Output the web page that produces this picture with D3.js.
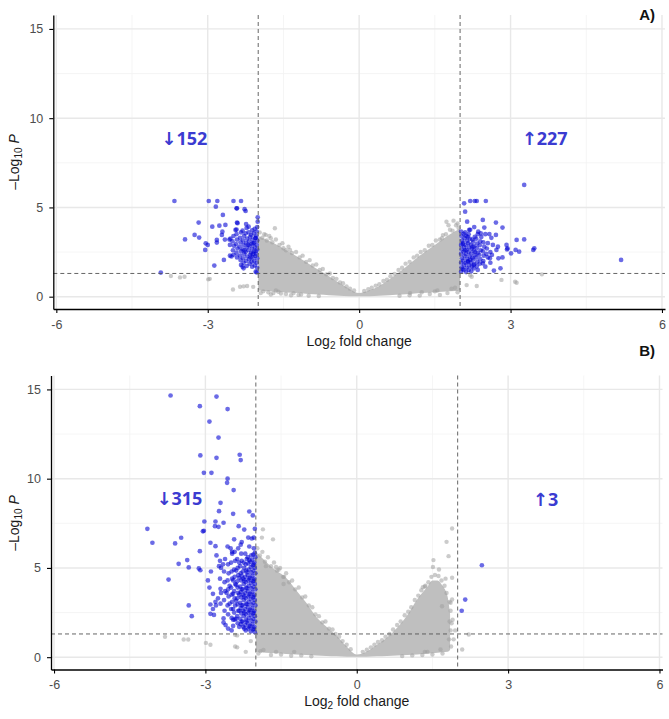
<!DOCTYPE html>
<html><head><meta charset="utf-8">
<script src="https://cdn.jsdelivr.net/npm/d3@7"></script>
<style>body{margin:0;background:#fff}</style></head>
<body><svg id="c" width="669" height="719"></svg>
<script>
// ---------- axis ticks / cutoffs ----------
const xTicks = [-6, -3, 0, 3, 6];
const xMinor = [-4.5, -1.5, 1.5, 4.5];
const yTicks = [0, 5, 10, 15];
const yMinor = [2.5, 7.5, 12.5];
const fcCutoff = 2;
const pCutoff = 1.30103;
const panelLabels = ["A)", "B)"];
const countLabels = [["↓152", "↑227"], ["↓315", "↑3"]];

// ---------- panel A data ----------
const downA = [
[-3.93,1.35],[-3.66,5.36],[-3.45,3.21],[-3.26,3.46],[-3.18,4.15],[-3.17,3.31],[-2.98,5.36],[-2.81,5.36],[-2.84,5.04],[-3.04,2.99],[-3.0,2.9],[-3.05,2.62],
[-2.91,3.92],[-2.77,3.98],[-2.65,4.02],[-2.82,3.18],[-2.82,3.03],[-2.72,3.46],[-2.71,3.64],[-2.66,3.2],[-2.56,2.9],[-2.7,4.58],[-2.87,1.74],[-2.68,2.06],
[-2.49,5.36],[-2.34,5.36],[-2.43,4.95],[-2.42,4.95],[-2.27,4.9],[-2.25,4.8],[-2.42,4.15],[-2.41,4.12],[-2.45,3.74],[-2.43,3.76],[-2.24,4.07],[-2.19,3.92],
[-2.01,4.45],[-2.01,4.2],[-2.57,3.2],[-2.55,3.25],[-2.56,2.3],[-2.53,2.25],[-2.34,1.78],[-2.31,1.68],[-2.29,1.59],[-2.05,1.4],[-2.03,1.36],
[-2.02,1.62],[-2.03,1.9],[-2.02,2.15],[-2.04,2.4],[-2.02,2.65],[-2.03,2.9],[-2.02,3.15],[-2.04,3.4],[-2.03,3.65],[-2.02,3.9],
[-2.07,1.75],[-2.08,2.0],[-2.06,2.28],[-2.09,2.52],[-2.07,2.78],[-2.08,3.02],[-2.06,3.28],[-2.09,3.55],[-2.07,3.8],
[-2.12,1.68],[-2.13,1.95],[-2.11,2.2],[-2.14,2.45],[-2.12,2.7],[-2.13,2.95],[-2.11,3.2],[-2.14,3.45],[-2.12,3.72],
[-2.17,1.85],[-2.18,2.1],[-2.16,2.35],[-2.19,2.6],[-2.17,2.85],[-2.18,3.1],[-2.16,3.35],[-2.19,3.6],
[-2.23,1.72],[-2.24,2.0],[-2.22,2.25],[-2.25,2.5],[-2.23,2.75],[-2.24,3.0],[-2.22,3.25],[-2.25,3.55],[-2.23,3.85],
[-2.29,1.9],[-2.3,2.15],[-2.28,2.4],[-2.31,2.65],[-2.29,2.9],[-2.3,3.15],[-2.28,3.4],[-2.31,3.7],
[-2.35,2.05],[-2.36,2.3],[-2.34,2.55],[-2.37,2.8],[-2.35,3.05],[-2.36,3.3],[-2.34,3.6],
[-2.42,2.2],[-2.43,2.45],[-2.41,2.7],[-2.44,2.95],[-2.42,3.2],[-2.43,3.5],
[-2.49,2.35],[-2.5,2.6],[-2.48,2.85],[-2.51,3.1],[-2.49,3.4],
[-2.05,2.55],[-2.1,3.0],[-2.15,2.2],[-2.05,3.3],[-2.2,2.9],[-2.1,2.4],[-2.27,2.6]
];
const upA = [
[3.27,6.26],[5.19,2.06],[2.08,5.23],[2.2,5.36],[2.29,5.36],[2.33,5.36],[2.51,5.36],[2.1,4.76],[2.45,4.3],[2.14,4.2],[2.71,4.15],[2.18,3.74],
[2.48,3.87],[2.84,3.87],[2.36,3.64],[2.41,3.55],[2.58,3.51],[2.71,3.46],[3.12,3.18],[3.27,3.21],[2.92,2.9],[2.94,2.71],[2.93,2.65],
[3.1,2.62],[3.17,2.52],[3.47,2.71],[3.45,2.62],[3.01,2.43],[2.84,2.2],[2.76,2.15],[2.72,2.62],[2.75,2.8],[2.59,2.15],[2.63,2.34],
[2.8,1.59],[2.67,1.46],[2.45,1.87],[2.5,1.68],[2.35,1.5],[2.27,1.78],
[2.02,1.4],[2.03,1.65],[2.02,1.9],[2.04,2.15],[2.02,2.4],[2.03,2.65],[2.02,2.9],[2.04,3.15],[2.03,3.4],[2.02,3.65],
[2.07,1.5],[2.08,1.78],[2.06,2.02],[2.09,2.28],[2.07,2.52],[2.08,2.78],[2.06,3.02],[2.09,3.28],[2.07,3.52],
[2.12,1.38],[2.13,1.62],[2.11,1.88],[2.14,2.12],[2.12,2.38],[2.13,2.62],[2.11,2.88],[2.14,3.12],[2.12,3.4],
[2.17,1.5],[2.18,1.75],[2.16,2.0],[2.19,2.25],[2.17,2.5],[2.18,2.75],[2.16,3.0],[2.19,3.25],[2.17,3.5],
[2.22,1.42],[2.23,1.68],[2.21,1.92],[2.24,2.18],[2.22,2.42],[2.23,2.68],[2.21,2.92],[2.24,3.2],
[2.27,1.58],[2.28,1.82],[2.26,2.08],[2.29,2.32],[2.27,2.58],[2.28,2.82],[2.26,3.08],[2.29,3.35],
[2.33,1.7],[2.34,1.95],[2.32,2.2],[2.35,2.45],[2.33,2.72],[2.34,2.98],[2.32,3.25],
[2.39,1.85],[2.4,2.1],[2.38,2.35],[2.41,2.6],[2.39,2.88],[2.4,3.1],
[2.46,2.0],[2.47,2.3],[2.45,2.55],[2.48,2.8],[2.46,3.05],[2.52,2.4],[2.53,2.7],[2.55,3.0],[2.6,2.5],
[2.05,1.55],[2.1,2.6],[2.15,1.95],[2.05,2.95],[2.1,3.6],[2.2,2.05],[2.25,2.8],[2.15,3.35],[2.3,2.5],[2.35,3.5],
[2.42,3.35],[2.2,3.75],[2.28,3.9],[2.5,3.5],[2.55,2.2],[2.6,1.9],[2.65,2.9],[2.62,3.3]
];
const nsA = [
[-3.73,1.16],[-3.55,1.08],[-3.46,1.12],[-2.99,0.97],[-2.96,1.0],[-2.36,0.56],[-2.29,0.58],[-2.22,0.6],[-2.1,0.55],[-2.5,0.4],
[-1.67,3.83],[-1.85,3.46],[-1.75,3.27],[-1.5,2.71],[-1.37,2.62],[-1.9,0.3],[-1.8,0.25],[-1.7,0.2],[-1.6,0.28],[-1.45,0.15],[-1.3,0.2],[-1.15,0.12],
[1.73,4.2],[1.87,4.26],[1.77,4.0],[1.64,3.27],[1.95,4.1],[2.82,0.94],[3.09,0.84],[3.12,0.78],[3.62,1.25],[2.2,1.2],[2.23,1.12],[2.13,0.65],[2.33,0.6],
[1.9,0.5],[1.83,0.45],[1.5,0.3],[1.24,0.25],[1.01,0.2],
[-1.97,3.6],[-1.92,3.3],[-1.88,3.5],[-1.83,3.15],[-1.78,3.4],[-1.72,3.05],[-1.65,3.2],[-1.58,2.9],[-1.52,3.0],[-1.45,2.6],[-1.4,2.8],
[-1.33,2.45],[-1.25,2.5],[-1.18,2.2],[-1.12,2.3],[-1.05,1.95],[-0.98,2.05],[-0.92,1.75],[-0.85,1.8],[-0.78,1.5],[-0.72,1.55],[-0.65,1.25],
[-0.58,1.3],[-0.52,1.05],[-0.45,1.0],[-0.38,0.8],[-0.32,0.75],[-0.25,0.58],[-0.18,0.45],[-0.1,0.35],
[0.1,0.32],[0.18,0.42],[0.25,0.5],[0.33,0.62],[0.4,0.7],[0.48,0.88],[0.55,0.95],[0.62,1.15],[0.7,1.28],[0.78,1.5],[0.85,1.62],[0.92,1.85],
[1.0,1.95],[1.08,2.2],[1.15,2.3],[1.22,2.5],[1.3,2.6],[1.38,2.85],[1.45,2.9],[1.52,3.15],[1.6,3.2],[1.66,3.45],[1.72,3.5],[1.8,3.75],
[1.85,3.7],[1.92,4.0],[1.97,3.85],
[-1.95,0.2],[-1.75,0.12],[-1.55,0.18],[-1.35,0.08],[-1.2,0.1],[-1.0,0.05],[-0.8,0.04],[0.8,0.05],[1.0,0.08],[1.2,0.06],[1.4,0.15],
[1.6,0.1],[1.75,0.2],[1.95,0.25],[-1.65,0.35],[1.55,0.35]
];
// dense non-significant core (envelope)
const cloudAx   = [-2, -1.8, -1.5, -1.2, -1.0, -0.8, -0.6, -0.4, -0.2, 0, 0.2, 0.4, 0.6, 0.85, 1.0, 1.2, 1.5, 1.8, 2.0];
const cloudAtop = [3.4, 3.15, 2.7, 2.2, 1.85, 1.5, 1.15, 0.78, 0.45, 0.2, 0.36, 0.6, 0.98, 1.5, 1.85, 2.3, 2.9, 3.5, 3.8];
const cloudAbot = [0.35, 0.3, 0.25, 0.2, 0.15, 0.12, 0.08, 0.05, 0.03, 0.02, 0.03, 0.05, 0.08, 0.12, 0.15, 0.2, 0.25, 0.3, 0.35];

// ---------- panel B data ----------
const downB = [
[-3.69,14.66],[-2.78,14.6],[-3.11,14.06],[-2.56,13.9],[-2.92,13.2],[-2.74,12.3],[-3.1,11.3],[-2.78,11.17],[-2.32,11.34],[-2.3,11.04],
[-3.03,10.33],[-2.88,10.33],[-2.56,10.0],[-2.57,9.77],[-2.44,9.36],[-2.7,8.65],[-2.73,8.18],[-2.13,8.16],[-2.06,7.94],[-2.45,8.03],
[-3.02,7.6],[-2.8,7.6],[-2.64,7.53],[-2.81,7.34],[-2.74,7.3],[-3.03,7.08],[-3.05,7.05],[-4.15,7.19],[-4.05,6.41],[-3.48,6.69],[-3.6,6.37],
[-3.73,4.35],[-3.53,5.23],[-3.36,5.44],[-3.33,5.03],[-3.11,5.94],[-3.13,4.97],[-3.1,4.87],[-3.33,2.9],[-3.27,2.3],[-2.9,2.43],[-2.83,2.37],
[-2.8,3.1],[-2.79,2.9],[-2.89,4.8],[-2.73,5.1],[-2.7,3.83],[-2.69,3.6],[-2.64,2.17],[-2.64,1.94],[-2.45,2.1],[-2.34,7.34],[-2.23,7.15],
[-2.02,7.19],[-2.15,6.7],[-2.08,6.65],[-2.04,6.7],[-2.5,6.1],[-2.47,5.9],[-2.28,6.45],[-2.9,6.41],[-2.8,6.22],[-2.78,5.7],[-2.71,5.4],
[-2.65,5.2],[-2.95,4.3],[-2.92,3.9],[-2.85,3.55],[-2.75,3.3],[-2.9,2.95],[-2.85,2.7],[-2.6,1.8],[-2.55,1.6],[-2.48,1.5],[-2.45,1.75],
[-2.02,1.4],[-2.03,1.7],[-2.01,2.0],[-2.02,2.3],[-2.03,2.6],[-2.01,2.9],[-2.02,3.2],[-2.03,3.5],[-2.01,3.8],[-2.02,4.1],[-2.03,4.4],[-2.01,4.7],[-2.02,5.0],[-2.03,5.3],[-2.01,5.6],[-2.02,5.85],
[-2.06,1.55],[-2.07,1.85],[-2.05,2.15],[-2.06,2.45],[-2.07,2.75],[-2.05,3.05],[-2.06,3.35],[-2.07,3.65],[-2.05,3.95],[-2.06,4.25],[-2.07,4.55],[-2.05,4.85],[-2.06,5.15],[-2.07,5.45],[-2.05,5.75],
[-2.1,1.45],[-2.11,1.75],[-2.09,2.05],[-2.1,2.35],[-2.11,2.65],[-2.09,2.95],[-2.1,3.25],[-2.11,3.55],[-2.09,3.85],[-2.1,4.15],[-2.11,4.45],[-2.09,4.75],[-2.1,5.05],[-2.11,5.35],[-2.09,5.7],
[-2.15,1.6],[-2.16,1.9],[-2.14,2.2],[-2.15,2.5],[-2.16,2.8],[-2.14,3.1],[-2.15,3.4],[-2.16,3.7],[-2.14,4.0],[-2.15,4.3],[-2.16,4.6],[-2.14,4.9],[-2.15,5.25],[-2.16,5.6],
[-2.2,1.5],[-2.21,1.8],[-2.19,2.1],[-2.2,2.4],[-2.21,2.7],[-2.19,3.0],[-2.2,3.3],[-2.21,3.6],[-2.19,3.9],[-2.2,4.2],[-2.21,4.5],[-2.19,4.85],[-2.2,5.2],[-2.21,5.8],
[-2.25,1.7],[-2.26,2.0],[-2.24,2.3],[-2.25,2.6],[-2.26,2.9],[-2.24,3.2],[-2.25,3.5],[-2.26,3.8],[-2.24,4.1],[-2.25,4.4],[-2.26,4.8],[-2.24,5.3],
[-2.3,1.85],[-2.31,2.15],[-2.29,2.45],[-2.3,2.75],[-2.31,3.05],[-2.29,3.35],[-2.3,3.65],[-2.31,3.95],[-2.29,4.3],[-2.3,4.7],[-2.31,5.1],[-2.29,5.8],[-2.3,6.3],
[-2.36,1.9],[-2.37,2.3],[-2.35,2.6],[-2.36,2.95],[-2.37,3.3],[-2.35,3.6],[-2.36,3.9],[-2.37,4.25],[-2.35,4.6],[-2.36,5.0],[-2.37,5.5],[-2.35,6.1],
[-2.42,2.1],[-2.43,2.5],[-2.41,2.9],[-2.42,3.3],[-2.43,3.7],[-2.41,4.1],[-2.42,4.5],[-2.43,4.9],[-2.41,5.4],[-2.42,5.9],[-2.43,6.6],
[-2.48,2.2],[-2.49,2.7],[-2.47,3.1],[-2.48,3.5],[-2.49,3.9],[-2.47,4.4],[-2.48,4.8],[-2.49,5.3],[-2.47,5.8],
[-2.55,2.4],[-2.56,2.9],[-2.54,3.4],[-2.55,3.8],[-2.56,4.3],[-2.54,4.7],[-2.55,5.2],[-2.56,6.2],
[-2.62,2.6],[-2.63,3.2],[-2.61,3.7],[-2.62,4.2],[-2.63,4.8],[-2.61,5.5],
[-2.7,3.0],[-2.71,4.4],[-2.69,5.0],
[-2.04,1.6],[-2.04,2.5],[-2.04,3.4],[-2.04,4.3],[-2.04,5.2],[-2.04,6.1],[-2.13,1.7],[-2.13,2.6],[-2.13,3.5],[-2.13,4.4],[-2.13,5.45],[-2.13,6.2],
[-2.18,2.0],[-2.18,2.95],[-2.18,3.85],[-2.18,4.75],[-2.18,5.5],[-2.23,1.6],[-2.23,2.5],[-2.23,3.4],[-2.23,4.3],[-2.23,5.0],[-2.28,2.0],[-2.28,2.9],
[-2.28,3.8],[-2.28,4.55],[-2.28,5.4],[-2.33,1.7],[-2.33,2.6],[-2.33,3.5],[-2.33,4.45],[-2.33,5.3],[-2.39,2.15],[-2.39,3.15],[-2.39,4.05],[-2.39,4.85],
[-2.45,2.7],[-2.45,3.55],[-2.45,4.3],[-2.52,3.0],[-2.52,4.0],[-2.58,3.6]
];
const upB = [[2.48,5.15],[2.15,3.23],[2.08,2.6]];
const nsB = [
[-3.8,1.14],[-3.43,0.99],[-3.34,0.99],[-2.99,0.8],[-2.9,0.7],[-2.41,0.6],[-2.37,0.55],[-2.41,1.25],[-2.37,1.22],[-1.86,7.16],[-1.66,6.6],
[-1.88,6.7],[-1.8,5.1],[-1.6,5.05],[-1.55,4.9],[-1.44,4.5],[-1.45,4.1],[-1.91,0.34],[-1.85,0.4],[-1.24,0.3],[-2.1,0.9],[-2.2,0.3],
[1.89,7.21],[1.78,6.46],[1.82,5.66],[1.52,5.44],[1.63,4.91],[1.51,5.05],[1.89,4.45],[1.76,4.4],[1.31,3.92],[1.36,4.0],[1.89,3.23],
[1.86,3.05],[1.69,2.85],[1.9,2.1],[1.88,1.9],[2.22,1.27],[2.09,0.43],[1.35,0.3],[1.66,0.43],[1.95,1.5],[1.92,1.0],
[-1.97,6.1],[-1.92,5.7],[-1.87,5.9],[-1.82,5.35],[-1.76,5.6],[-1.7,5.1],[-1.64,5.3],[-1.58,4.85],[-1.52,5.0],[-1.46,4.5],[-1.4,4.7],
[-1.34,4.2],[-1.28,4.3],[-1.22,3.8],[-1.15,3.9],[-1.08,3.35],[-1.02,3.4],[-0.95,2.9],[-0.88,2.8],[-0.82,2.4],[-0.75,2.3],[-0.68,1.95],
[-0.62,2.0],[-0.55,1.6],[-0.48,1.55],[-0.42,1.3],[-0.35,1.15],[-0.28,0.9],[-0.2,0.7],[-0.12,0.45],
[0.12,0.3],[0.2,0.42],[0.28,0.55],[0.35,0.7],[0.42,0.85],[0.5,0.95],[0.57,1.15],[0.65,1.3],[0.72,1.55],[0.8,1.8],[0.87,2.0],[0.95,2.35],
[1.02,2.55],[1.08,2.8],[1.15,3.2],[1.22,3.45],[1.28,3.75],[1.35,3.95],[1.42,4.2],[1.48,4.5],[1.55,4.6],[1.62,4.55],[1.68,4.3],[1.74,4.0],
[1.78,3.6],[1.84,3.1],[1.86,2.6],[1.84,2.0],[1.86,1.5],[1.83,1.0],[1.87,0.6],
[-1.95,0.2],[-1.7,0.12],[-1.5,0.15],[-1.3,0.08],[-1.1,0.1],[-0.9,0.05],[0.9,0.06],[1.1,0.1],[1.3,0.12],[1.5,0.15],[1.7,0.2],[-1.6,0.3],[1.4,0.3]
];
const cloudBx   = [-2, -1.8, -1.6, -1.4, -1.2, -1.0, -0.8, -0.6, -0.4, -0.2, 0, 0.2, 0.4, 0.6, 0.8, 1.0, 1.2, 1.4, 1.5, 1.6, 1.7, 1.8, 1.85];
const cloudBtop = [5.9, 5.35, 4.85, 4.45, 3.75, 3.05, 2.25, 1.7, 1.2, 0.6, 0.15, 0.32, 0.7, 1.1, 1.65, 2.35, 3.25, 3.95, 4.3, 4.3, 4.0, 3.4, 2.4];
const cloudBbot = [0.3, 0.25, 0.22, 0.18, 0.15, 0.12, 0.1, 0.07, 0.05, 0.03, 0.02, 0.03, 0.05, 0.07, 0.1, 0.12, 0.15, 0.2, 0.22, 0.25, 0.28, 0.3, 0.4];

// ---------- layout ----------
const yDomain = [-0.69, 15.78];
const xDomain = [-6.06, 6.06];
const panels = [
  {left:53.3, right:665, top:15, bottom:309, down:downA, up:upA, ns:nsA, cx:cloudAx, ct:cloudAtop, cb:cloudAbot,
   label:panelLabels[0], counts:countLabels[0], labelY:20, tickBase:328.5, titleBase:346, titleY:162,
   cntPos:[[-3.92,8.5],[3.22,8.5]]},
  {left:51, right:662.5, top:375.5, bottom:669.5, down:downB, up:upB, ns:nsB, cx:cloudBx, ct:cloudBtop, cb:cloudBbot,
   label:panelLabels[1], counts:countLabels[1], labelY:356, tickBase:688.5, titleBase:706, titleY:523,
   cntPos:[[-3.97,8.53],[3.49,8.45]]}
];

const svg = d3.select("#c");
const font = "'Liberation Sans', Arial, sans-serif";

panels.forEach(p => {
  const x = d3.scaleLinear().domain(xDomain).range([p.left, p.right]);
  const y = d3.scaleLinear().domain(yDomain).range([p.bottom, p.top]);
  const g = svg.append("g");

  // grid
  g.selectAll(".gxm").data(xMinor).enter().append("line")
    .attr("x1", d=>x(d)).attr("x2", d=>x(d)).attr("y1", p.top).attr("y2", p.bottom)
    .attr("stroke", "#f2f2f2").attr("stroke-width", 0.8);
  g.selectAll(".gym").data(yMinor).enter().append("line")
    .attr("y1", d=>y(d)).attr("y2", d=>y(d)).attr("x1", p.left).attr("x2", p.right)
    .attr("stroke", "#f2f2f2").attr("stroke-width", 0.8);
  g.selectAll(".gx").data(xTicks).enter().append("line")
    .attr("x1", d=>x(d)).attr("x2", d=>x(d)).attr("y1", p.top).attr("y2", p.bottom)
    .attr("stroke", "#e8e8e8").attr("stroke-width", 1.4);
  g.selectAll(".gy").data(yTicks).enter().append("line")
    .attr("y1", d=>y(d)).attr("y2", d=>y(d)).attr("x1", p.left).attr("x2", p.right)
    .attr("stroke", "#e8e8e8").attr("stroke-width", 1.4);

  // dense grey core
  const cloud = p.cx.map((v,i)=>({x:v, t:p.ct[i], b:p.cb[i]}));
  g.append("path").datum(cloud)
    .attr("d", d3.area().curve(d3.curveMonotoneX).x(d=>x(d.x)).y0(d=>y(d.b)).y1(d=>y(d.t)))
    .attr("fill", "#bfbfbf");

  // grey points
  g.selectAll(".ns").data(p.ns).enter().append("circle")
    .attr("cx", d=>x(d[0])).attr("cy", d=>y(d[1])).attr("r", 2.2)
    .attr("fill", "#a0a0a0").attr("fill-opacity", 0.55);

  // blue points
  g.selectAll(".sig").data(p.down.concat(p.up)).enter().append("circle")
    .attr("cx", d=>x(d[0])).attr("cy", d=>y(d[1])).attr("r", 2.35)
    .attr("fill", "#0000d4").attr("fill-opacity", 0.58);

  // cutoff lines
  [-fcCutoff, fcCutoff].forEach(v => g.append("line")
    .attr("x1", x(v)).attr("x2", x(v)).attr("y1", p.top).attr("y2", p.bottom)
    .attr("stroke", "#555").attr("stroke-width", 0.9).attr("stroke-dasharray", "4,3"));
  g.append("line").attr("x1", p.left).attr("x2", p.right).attr("y1", y(pCutoff)).attr("y2", y(pCutoff))
    .attr("stroke", "#555").attr("stroke-width", 0.9).attr("stroke-dasharray", "4,3");

  // axes
  const xa = g.append("g").attr("transform", `translate(0,${p.bottom})`)
    .call(d3.axisBottom(x).tickValues(xTicks).tickSize(4).tickSizeOuter(0).tickFormat(d3.format("d")));
  const ya = g.append("g").attr("transform", `translate(${p.left},0)`)
    .call(d3.axisLeft(y).tickValues(yTicks).tickSize(4).tickSizeOuter(0).tickPadding(6));
  [xa, ya].forEach(a => {
    a.select(".domain").attr("stroke", "#000").attr("stroke-width", 1.3);
    a.selectAll(".tick line").attr("stroke", "#000").attr("stroke-width", 1.1);
    a.selectAll("text").attr("fill", "#4d4d4d").style("font-family", font).style("font-size", "12.5px");
  });
  xa.selectAll(".tick text").attr("dy", null).attr("y", p.tickBase - p.bottom);
  xa.selectAll(".tick text").text(d => d < 0 ? "-" + Math.abs(d) : d);

  // x title
  const xt = svg.append("text").attr("x", x(0)).attr("y", p.titleBase).attr("text-anchor", "middle")
    .style("font-family", font).style("font-size", "14px").attr("fill", "#1a1a1a");
  xt.append("tspan").text("Log");
  xt.append("tspan").text("2").style("font-size", "10px").attr("dy", 3);
  xt.append("tspan").text(" fold change").attr("dy", -3);

  // y title
  const yt = svg.append("text").attr("transform", `translate(19,${p.titleY}) rotate(-90)`).attr("text-anchor", "middle")
    .style("font-family", font).style("font-size", "14px").attr("fill", "#1a1a1a");
  yt.append("tspan").text("\u2013Log");
  yt.append("tspan").text("10").style("font-size", "10px").attr("dy", 3);
  yt.append("tspan").text(" ").attr("dy", -3);
  yt.append("tspan").text("P").style("font-style", "italic");

  // panel label
  svg.append("text").attr("x", 655).attr("y", p.labelY).attr("text-anchor", "end")
    .style("font-family", font).style("font-size", "15px").style("font-weight", "bold").attr("fill", "#111")
    .text(p.label);

  // count labels
  p.counts.forEach((t, i) => {
    svg.append("text").attr("x", x(p.cntPos[i][0])).attr("y", y(p.cntPos[i][1]))
      .style("font-family", "'Noto Sans', 'DejaVu Sans', sans-serif").style("font-size", "18px")
      .style("font-weight", "bold").attr("fill", "#3b3bd1").text(t);
  });
});
</script>
</body></html>
